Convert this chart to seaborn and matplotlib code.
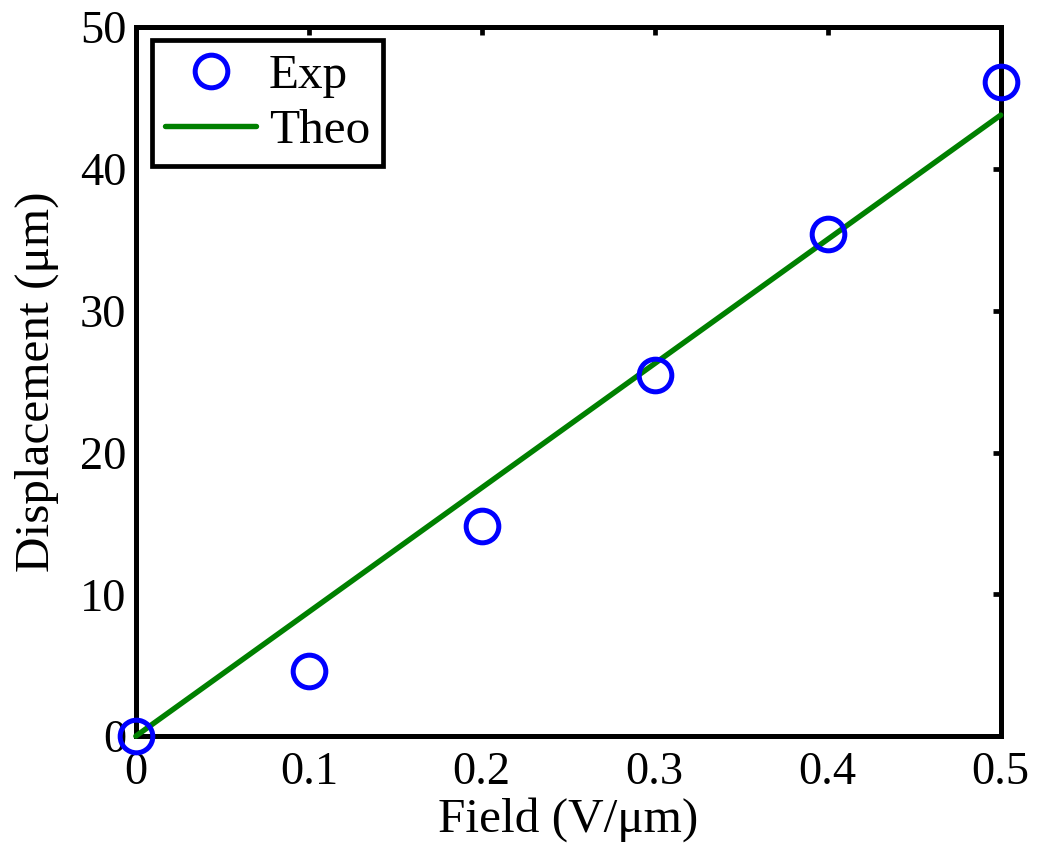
import numpy as np
import pandas as pd
import matplotlib
matplotlib.use("Agg")
import matplotlib.pyplot as plt
import seaborn as sns

# measured points
field_exp = [0.0, 0.1, 0.2, 0.3, 0.4, 0.5]
disp_exp = [0.0, 4.6, 14.8, 25.5, 35.4, 46.1]
# theory line
field_theo = [0.0, 0.1, 0.2, 0.3, 0.4, 0.5]
disp_theo = [0.0, 8.76, 17.52, 26.28, 35.04, 43.8]

df_exp = pd.DataFrame({"Field": field_exp, "Disp": disp_exp})
df_theo = pd.DataFrame({"Field": field_theo, "Disp": disp_theo})

sns.set_style("white")
plt.rcParams["font.family"] = ["Liberation Serif", "DejaVu Serif"]
plt.rcParams["text.color"] = "black"
plt.rcParams["axes.labelcolor"] = "black"
plt.rcParams["xtick.color"] = "black"
plt.rcParams["ytick.color"] = "black"

fig = plt.figure(figsize=(10.37, 8.5), dpi=100)
ax = fig.add_axes([0.131, 0.134, 0.834, 0.834])

sns.lineplot(x="Field", y="Disp", data=df_exp, ax=ax, label="Exp",
             linestyle="", marker="o", markersize=23.5, mfc="none",
             mec="#0000ff", mew=3.6, clip_on=False, zorder=5)
sns.lineplot(x="Field", y="Disp", data=df_theo, ax=ax, label="Theo",
             color="#008000", linewidth=3.9, clip_on=False, zorder=4)

ax.set_xlim(0, 0.5)
ax.set_ylim(0, 50)
ax.set_xticks([0, 0.1, 0.2, 0.3, 0.4, 0.5])
ax.set_xticklabels(["0", "0.1", "0.2", "0.3", "0.4", "0.5"])
ax.set_yticks([0, 10, 20, 30, 40, 50])
ax.tick_params(direction="in", length=6, width=3.4, labelsize=33.5,
               top=True, right=True, color="black", labelcolor="black")
ax.tick_params(axis="x", pad=11)
ax.tick_params(axis="y", pad=7)
for s in ax.spines.values():
    s.set_linewidth(3.6)
    s.set_color("black")

ax.set_xlabel("Field (V/\u03bcm)", fontsize=35.5, labelpad=2)
ax.set_ylabel("Displacement (\u03bcm)", fontsize=35.5, labelpad=15)

leg = ax.legend(loc="upper left", bbox_to_anchor=(0.0185, 0.982),
                borderaxespad=0, fontsize=35.5, fancybox=False,
                edgecolor="black", framealpha=1, handlelength=1.85,
                labelspacing=0.22, borderpad=0.27, handletextpad=0.25)
leg.get_frame().set_linewidth(3.4)

fig.savefig("out.png", dpi=100)
